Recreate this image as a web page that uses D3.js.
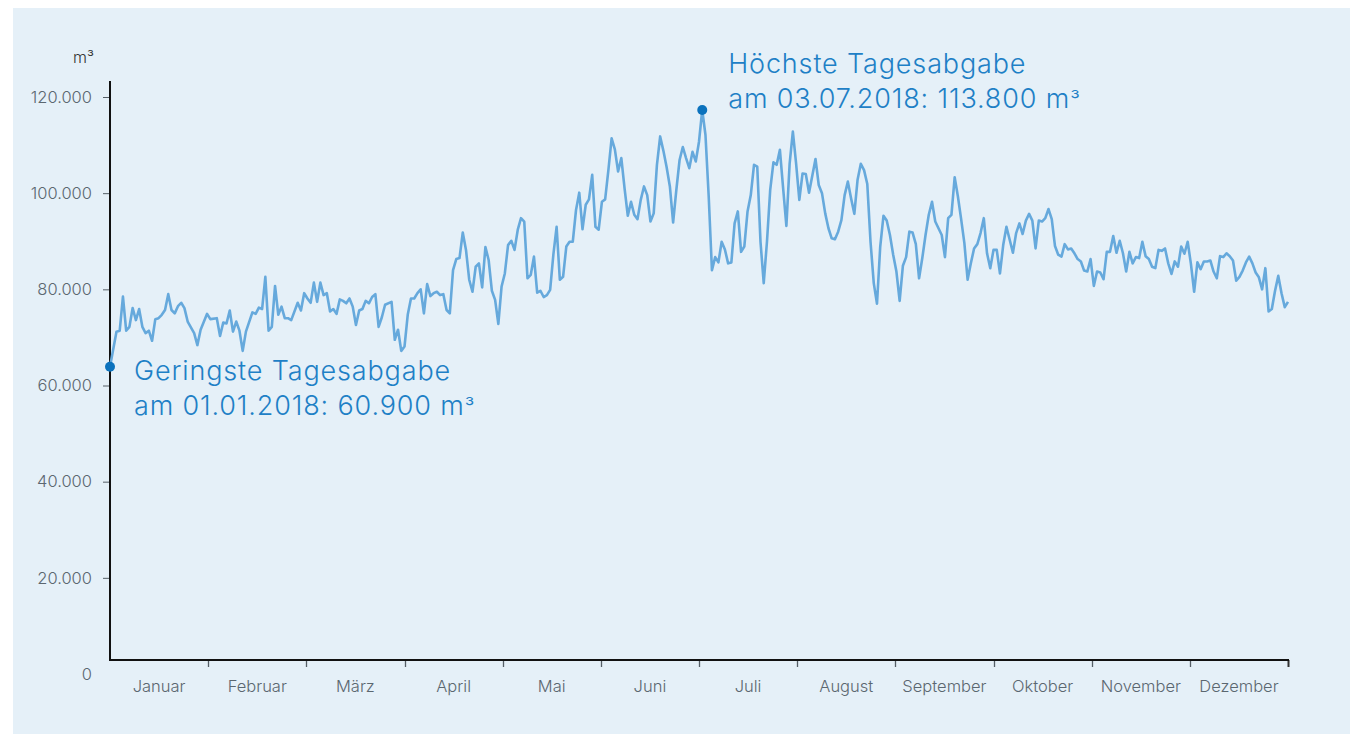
<!DOCTYPE html>
<html>
<head>
<meta charset="utf-8">
<script src="https://cdn.jsdelivr.net/npm/d3@7"></script>
<style>
  body { margin: 0; background: #fff; }
  svg { display: block; }
  text { font-family: Inter, "Noto Sans", sans-serif; }
</style>
</head>
<body>
<div id="chart"></div>
<script>
// Tagesabgabe 2018, m³ pro Tag (Tag = Tag des Jahres, 0 = 01.01.)
var tage = [0,2,3,4,5,6,7,8,9,10,11,12,13,14,15,16,17,18,19,20,21,22,23,24,26,27,28,30,31,33,34,35,36,37,38,39,40,41,42,44,45,46,47,48,49,50,51,52,53,54,55,56,58,59,60,61,62,63,64,65,66,67,68,69,70,71,72,73,74,75,76,77,78,79,80,81,82,83,84,85,87,88,89,90,91,92,93,94,95,96,97,98,99,100,101,102,103,104,105,106,107,108,109,110,111,112,113,114,115,116,117,118,119,120,121,122,123,124,125,126,127,128,129,130,131,132,133,134,135,136,137,138,139,140,141,142,143,144,145,146,147,148,149,150,151,152,153,154,155,156,157,158,159,160,161,162,163,164,165,166,167,168,169,170,171,172,173,174,175,176,177,178,179,180,181,182,183,184,185,186,187,188,189,190,191,192,193,194,195,196,197,198,199,200,201,202,203,204,205,206,207,208,209,210,211,212,213,214,215,216,218,219,220,221,222,223,224,225,226,227,228,229,230,231,232,233,234,235,236,237,238,239,240,241,242,243,244,245,246,247,248,249,250,251,252,253,254,255,256,257,258,259,260,261,262,263,264,265,266,267,268,269,270,271,272,273,274,275,276,277,278,279,280,281,282,283,284,285,286,287,288,289,290,291,292,293,294,295,296,297,298,299,300,301,302,303,304,305,306,307,308,309,310,311,312,313,314,315,316,317,318,319,320,321,322,323,324,325,326,327,328,329,330,331,332,333,334,335,336,337,338,339,340,341,342,343,344,345,346,347,348,349,350,351,352,353,354,355,356,357,358,359,360,361,362,363,364];
var abgabe = [63900,71200,71400,78500,71400,72200,76100,73600,75900,72200,70900,71400,69300,73800,74000,74700,75700,79000,75700,75000,76500,77200,76100,73300,70900,68400,71600,74900,73800,74000,70300,73100,72900,75600,71200,73300,71400,67200,71200,75200,74900,76200,75900,82600,71400,72200,80700,74700,76400,74000,74000,73600,77200,75600,79200,78100,77200,81400,77400,81400,78800,79200,75400,75900,74900,77900,77600,77100,78100,76400,72600,75600,75900,77600,77100,78400,79000,72200,74200,76800,77400,69500,71600,67200,68100,74700,78100,78100,79200,80000,75000,81100,78600,79200,79500,78800,79000,75700,75000,84000,86300,86500,91800,88200,82000,79500,84700,85400,80400,88800,86100,79700,77800,72800,80600,83300,89200,90100,88200,92400,94800,94100,82300,83000,86800,79300,79700,78400,78800,79900,87200,93000,82000,82600,88900,89900,89900,96500,100100,92500,97600,98700,103800,93000,92400,98200,98700,104800,111400,109100,104500,107300,101000,95300,98200,95500,94600,98600,101400,99600,94100,95800,105900,111800,108800,105400,101400,93900,100700,106900,109600,107300,105200,108600,106600,110700,117300,112100,99300,84000,86700,85600,89900,88300,85400,85600,93700,96200,87800,88900,96200,99600,105900,105500,89900,81300,89900,100700,106400,105900,109000,101000,93200,106100,112800,106200,98600,104100,104000,100100,107100,101700,100000,95800,92700,90600,90400,92000,94400,99600,102400,98900,95700,102800,106100,104800,101900,89900,81300,77000,88900,95300,94300,91300,87200,83700,77600,84900,86700,92000,91800,89400,82300,86500,91300,95500,98200,94100,92700,91300,86700,94800,95500,103300,99300,94600,89600,82000,85400,88500,89400,91700,94800,87500,84400,88200,88200,83300,89200,93000,90300,87600,91700,93700,91500,94300,95700,94300,88500,94300,94100,94800,96700,94600,89000,87200,86800,89400,88300,88500,87500,86300,85800,83900,83700,86300,80700,83700,83500,82100,87800,87800,91100,87600,90100,87500,83700,87800,85400,86700,86500,89900,86900,86300,84700,84400,88200,88000,88500,85400,83200,85800,84700,88900,87400,89900,85300,79500,85600,84200,85800,85800,86000,83700,82300,86900,86700,87500,86900,86000,81800,82600,83900,85600,86800,85400,83500,82500,80000,84400,75400,75900,79700,82800,79200,76300,77400];
var monate = ['Januar','Februar','März','April','Mai','Juni','Juli','August','September','Oktober','November','Dezember'];
var yTicks = [0,20000,40000,60000,80000,100000,120000];
var textMin = ['Geringste Tagesabgabe', 'am 01.01.2018: 60.900 m'];
var textMax = ['Höchste Tagesabgabe', 'am 03.07.2018: 113.800 m'];

var daten = tage.map((t,i)=>({tag:t, wert:abgabe[i]}));
var W = 1350, H = 734;
var svg = d3.select('#chart').append('svg').attr('width',W).attr('height',H);

svg.append('rect').attr('x',13).attr('y',8).attr('width',W-13).attr('height',H-8).style('fill','#e5f0f8');

var x = d3.scaleLinear().domain([0,364]).range([110,1288]);
var y = d3.scaleLinear().domain([0,120000]).range([674,97]);
var xMonat = d3.scaleBand().domain(monate).range([110,1288]);
var de = d3.formatLocale({decimal:',', thousands:'.', grouping:[3], currency:['','€']});
var fmt = de.format(',');

// y-Achse
var gy = svg.append('g').attr('transform','translate(110,0)')
    .call(d3.axisLeft(y).tickValues(yTicks).tickFormat(fmt).tickSize(7).tickPadding(11));
gy.select('.domain').remove();
gy.selectAll('line').style('stroke','#555e66').filter(d=>d==0).remove();
gy.selectAll('text').style('font-size','16.5px').style('font-weight',300).style('fill','#5b6770');
svg.append('line').attr('x1',110).attr('x2',110).attr('y1',81).attr('y2',661)
    .style('stroke','#111').style('stroke-width',2);
svg.append('text').attr('x',94).attr('y',63).attr('text-anchor','end')
    .style('font-size','16px').style('font-weight',300).style('fill','#333').text('m³');

// x-Achse
var gx = svg.append('g').attr('transform','translate(0,660)')
    .call(d3.axisBottom(xMonat).tickSize(0).tickPadding(0));
gx.select('.domain').remove();
gx.selectAll('text').attr('dy',null).attr('y',32)
    .style('font-size','16.5px').style('font-weight',300).style('fill','#5b6770');
svg.append('g').selectAll('line').data(d3.range(1,monate.length+1)).enter().append('line')
    .attr('x1',d=>Math.round(xMonat.step()*d+110)+0.5).attr('x2',d=>Math.round(xMonat.step()*d+110)+0.5)
    .attr('y1',660).attr('y2',667)
    .style('stroke',(d)=>d==monate.length?'#333':'#555e66').style('stroke-width',(d)=>d==monate.length?2:1.3);
svg.append('line').attr('x1',109).attr('x2',1289).attr('y1',660).attr('y2',660)
    .style('stroke','#111').style('stroke-width',2);

// Linie
var line = d3.line().x(d=>x(d.tag)).y(d=>y(d.wert));
svg.append('path').datum(daten).attr('d',line)
    .style('fill','none').style('stroke','#66a9dc').style('stroke-width',2.6)
    .style('stroke-linejoin','round');

// Markierungen
var iMax = d3.maxIndex(daten, d=>d.wert);
var marken = [{p:daten[0], t:textMin, dx:24, dy:13}, {p:daten[iMax], t:textMax, dx:26, dy:-37}];
var gm = svg.selectAll('.marke').data(marken).enter().append('g').attr('class','marke');
gm.append('circle').attr('cx',d=>x(d.p.tag)).attr('cy',d=>y(d.p.wert)).attr('r',5)
    .style('fill','#0b72bd');
gm.each(function(d) {
    var t = d3.select(this).append('text').style('font-size','27px').style('font-weight',300)
        .style('letter-spacing','0.85px').style('fill','#1e80c6');
    d.t.forEach((s,i)=>{
        t.append('tspan').attr('x',x(d.p.tag)+d.dx).attr('y',y(d.p.wert)+d.dy+i*35.5).text(s);
    });
    t.append('tspan').attr('dx',0).style('font-size','22px').style('letter-spacing','0px').text('³');
});
</script>
</body>
</html>
